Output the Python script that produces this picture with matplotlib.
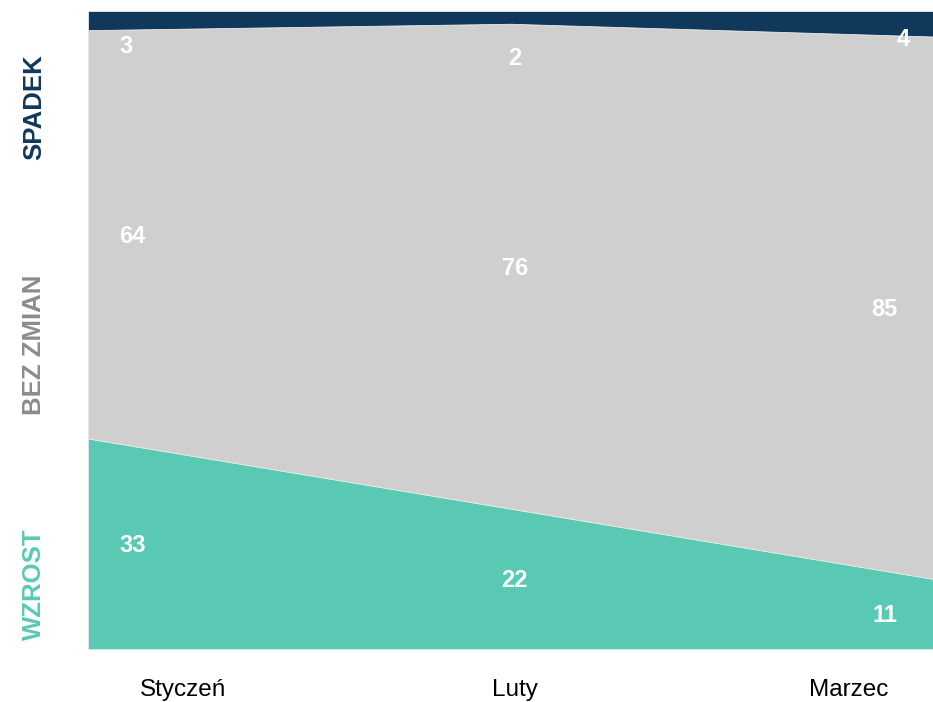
import matplotlib
matplotlib.use("Agg")
import matplotlib.pyplot as plt

months = ["Styczeń", "Luty", "Marzec"]
wzrost = [33, 22, 11]
bez_zmian = [64, 76, 85]
spadek = [3, 2, 4]
series_names = ["WZROST", "BEZ ZMIAN", "SPADEK"]

colors = ["#5ac9b4", "#d0cfd0", "#10385b"]

W, H = 933, 702
fig = plt.figure(figsize=(W / 100, H / 100), dpi=100)
ax = fig.add_axes([88 / W, (H - 649) / H, (933 - 88) / W, (649 - 11) / H])

x = list(range(len(months)))
ax.stackplot(x, wzrost, bez_zmian, spadek, colors=colors,
             edgecolor="#e8e8e8", linewidth=0.6)
ax.set_xlim(0, 2)
ax.set_ylim(0, 100)
ax.axis("off")

font = "Liberation Sans"
fs = 17
# value labels
lx = [0.105, 1.01, 1.886]
for i in range(3):
    ax.text(lx[i], wzrost[i] / 2 - 0.3, str(wzrost[i]), color="white", fontsize=fs,
            fontweight="bold", family=font, ha="center", va="center")
    ax.text(lx[i], wzrost[i] + bez_zmian[i] / 2 - 0.3, str(bez_zmian[i]), color="white",
            fontsize=fs, fontweight="bold", family=font, ha="center", va="center")
spadek_y = [94.4, 92.6, 95.6]
spadek_x = [0.09, 1.01, 1.93]
for i in range(3):
    ax.text(spadek_x[i], spadek_y[i], str(spadek[i]), color="white", fontsize=fs,
            fontweight="bold", family=font, ha="center", va="center")

# month labels
month_x = [0.225, 1.01, 1.80]
for i, m in enumerate(months):
    ax.text(month_x[i], -6.4, m, color="black", fontsize=17.5, family=font,
            ha="center", va="center", clip_on=False)

# side labels
side_y = [584, 345, 107]
side_colors = ["#5ac9b4", "#8c8c8c", "#10385b"]
for name, yy, c in zip(series_names, side_y, side_colors):
    fig.text(34 / W, 1 - yy / H, name, rotation=90, color=c, fontsize=18.5,
             fontweight="bold", family=font, ha="center", va="center")

fig.savefig("out.png", dpi=100)
